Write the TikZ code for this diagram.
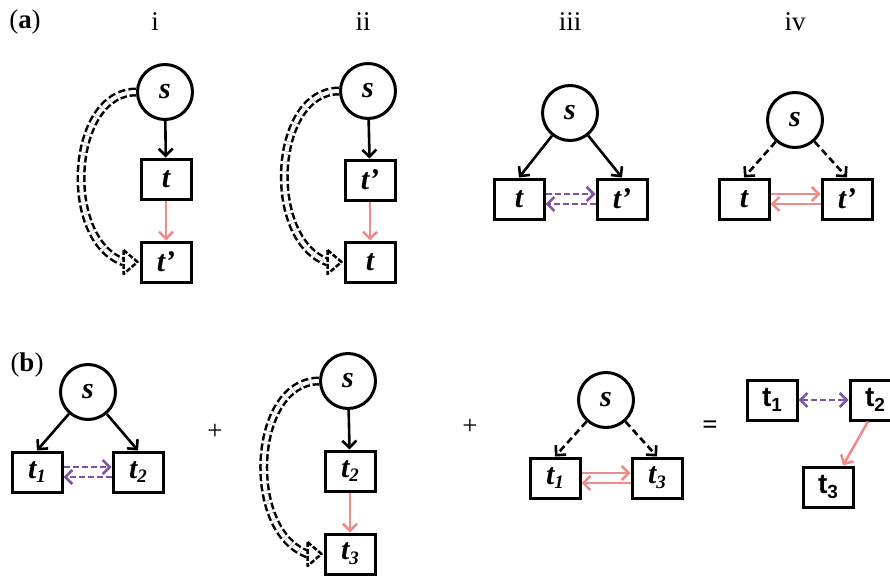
\documentclass[tikz,border=0pt]{standalone}
\usepackage{fontspec}
\setmainfont{Liberation Serif}
\setsansfont{Liberation Sans}
\usetikzlibrary{arrows.meta}
\usepackage{xcolor}

\definecolor{pinkred}{RGB}{238,140,140}
\definecolor{purp}{RGB}{128,82,165}

\newcommand{\tsub}[1]{t\raisebox{-0.35ex}{\fontsize{19}{19}\selectfont #1}}

\tikzset{
  vert/.style={circle, draw, line width=3pt, minimum size=55pt, inner sep=0pt,
    font=\fontsize{30}{32}\selectfont\bfseries\itshape},
  tbox/.style={rectangle, draw, line width=3pt, minimum width=50pt, minimum height=40pt,
    inner sep=0pt, font=\fontsize{30}{32}\selectfont\bfseries\itshape},
  sbox/.style={tbox, font=\fontsize{28}{30}\selectfont\sffamily\bfseries},
  edge/.style={line width=2.6pt, -{Straight Barb[length=7pt,width=14pt]}},
  dedge/.style={edge, dash pattern=on 7pt off 4pt},
  redge/.style={edge, line width=2.6pt, pinkred},
  pedge/.style={edge, line width=2.6pt, purp, dash pattern=on 6pt off 3pt},
  dbl/.style={double, double distance=4pt, line width=2.5pt,
    dash pattern=on 7pt off 3pt},
  dblhead/.style={line width=2.5pt, dash pattern=on 5pt off 2pt, fill=white,
    line join=round},
  lbl/.style={font=\fontsize{27}{29}\selectfont}
}

\begin{document}
\begin{tikzpicture}[x=1pt,y=-1pt]
\useasboundingbox (0,0) rectangle (890,575);

% labels
\node[lbl] (la) at (25,22) {(\textbf{a})};
\node[lbl] (lb) at (27,365) {(\textbf{b})};
\foreach \x/\r in {155/i,363/ii,570/iii,795/iv}
{	\node[lbl] (r\r) at (\x,22) {\r};
}
\node[lbl] (plusA) at (215,432) {+};
\node[lbl] (plusB) at (470,427) {+};
\node[lbl] (eq) at (710,427) {\textbf{=}};

% (a) i
\node[vert] (s1) at (165,92) {s};
\node[tbox] (t1) at (166,179) {t};
\node[tbox] (tp1) at (166,262) {t'};
\draw[edge] (s1) -- (t1);
\draw[redge] (t1) -- (tp1);
\coordinate (h1) at ([xshift=-16pt]tp1.west);
\draw[dbl] (s1.west) to[out=180,in=160] (h1);
\draw[dblhead] ([yshift=12pt]h1) -- ([xshift=-2pt]tp1.west) -- ([yshift=-12pt]h1) -- cycle;

% (a) ii
\node[vert] (s2) at (368,91) {s};
\node[tbox] (tp2) at (370,180) {t'};
\node[tbox] (t2) at (370,262) {t};
\draw[edge] (s2) -- (tp2);
\draw[redge] (tp2) -- (t2);
\coordinate (h2) at ([xshift=-16pt]t2.west);
\draw[dbl] (s2.west) to[out=180,in=160] (h2);
\draw[dblhead] ([yshift=12pt]h2) -- ([xshift=-2pt]t2.west) -- ([yshift=-12pt]h2) -- cycle;

% (a) iii
\node[vert] (s3) at (570,113) {s};
\node[tbox] (t3) at (519,199) {t};
\node[tbox] (tp3) at (622,199) {t'};
\draw[edge] (s3) -- (t3.north);
\draw[edge] (s3) -- (tp3.north);
\draw[pedge] ([yshift=5pt]t3.east) -- ([yshift=5pt]tp3.west);
\draw[pedge] ([yshift=-5pt]tp3.west) -- ([yshift=-5pt]t3.east);

% (a) iv
\node[vert] (s4) at (795,120) {s};
\node[tbox] (t4) at (744,199) {t};
\node[tbox] (tp4) at (847,199) {t'};
\draw[dedge] (s4) -- (t4.north);
\draw[dedge] (s4) -- (tp4.north);
\draw[redge] ([yshift=5pt]t4.east) -- ([yshift=5pt]tp4.west);
\draw[redge] ([yshift=-5pt]tp4.west) -- ([yshift=-5pt]t4.east);

% (b) first
\node[vert] (s5) at (88,392) {s};
\node[tbox] (a5) at (37,472) {\tsub{1}};
\node[tbox] (b5) at (138,472) {\tsub{2}};
\draw[edge] (s5) -- (a5.north);
\draw[edge] (s5) -- (b5.north);
\draw[pedge] ([yshift=5pt]a5.east) -- ([yshift=5pt]b5.west);
\draw[pedge] ([yshift=-5pt]b5.west) -- ([yshift=-5pt]a5.east);

% (b) second
\node[vert] (s6) at (348,381) {s};
\node[tbox] (b6) at (350,471) {\tsub{2}};
\node[tbox] (c6) at (350,554) {\tsub{3}};
\draw[edge] (s6) -- (b6);
\draw[redge] (b6) -- (c6);
\coordinate (h6) at ([xshift=-16pt]c6.west);
\draw[dbl] (s6.west) to[out=180,in=160] (h6);
\draw[dblhead] ([yshift=12pt]h6) -- ([xshift=-2pt]c6.west) -- ([yshift=-12pt]h6) -- cycle;

% (b) third
\node[vert] (s7) at (606,400) {s};
\node[tbox] (a7) at (555,478) {\tsub{1}};
\node[tbox] (c7) at (657,478) {\tsub{3}};
\draw[dedge] (s7) -- (a7.north);
\draw[dedge] (s7) -- (c7.north);
\draw[redge] ([yshift=5pt]a7.east) -- ([yshift=5pt]c7.west);
\draw[redge] ([yshift=-5pt]c7.west) -- ([yshift=-5pt]a7.east);

% (b) result
\node[sbox] (a8) at (772,400) {\tsub{1}};
\node[sbox] (b8) at (875,400) {\tsub{2}};
\node[sbox] (c8) at (828,487) {\tsub{3}};
\draw[pedge, {Straight Barb[length=7pt,width=14pt]}-{Straight Barb[length=7pt,width=14pt]}] (a8) -- (b8);
\draw[redge] ([xshift=-7pt]b8.south) -- ([xshift=15pt]c8.north);
\end{tikzpicture}
\end{document}
